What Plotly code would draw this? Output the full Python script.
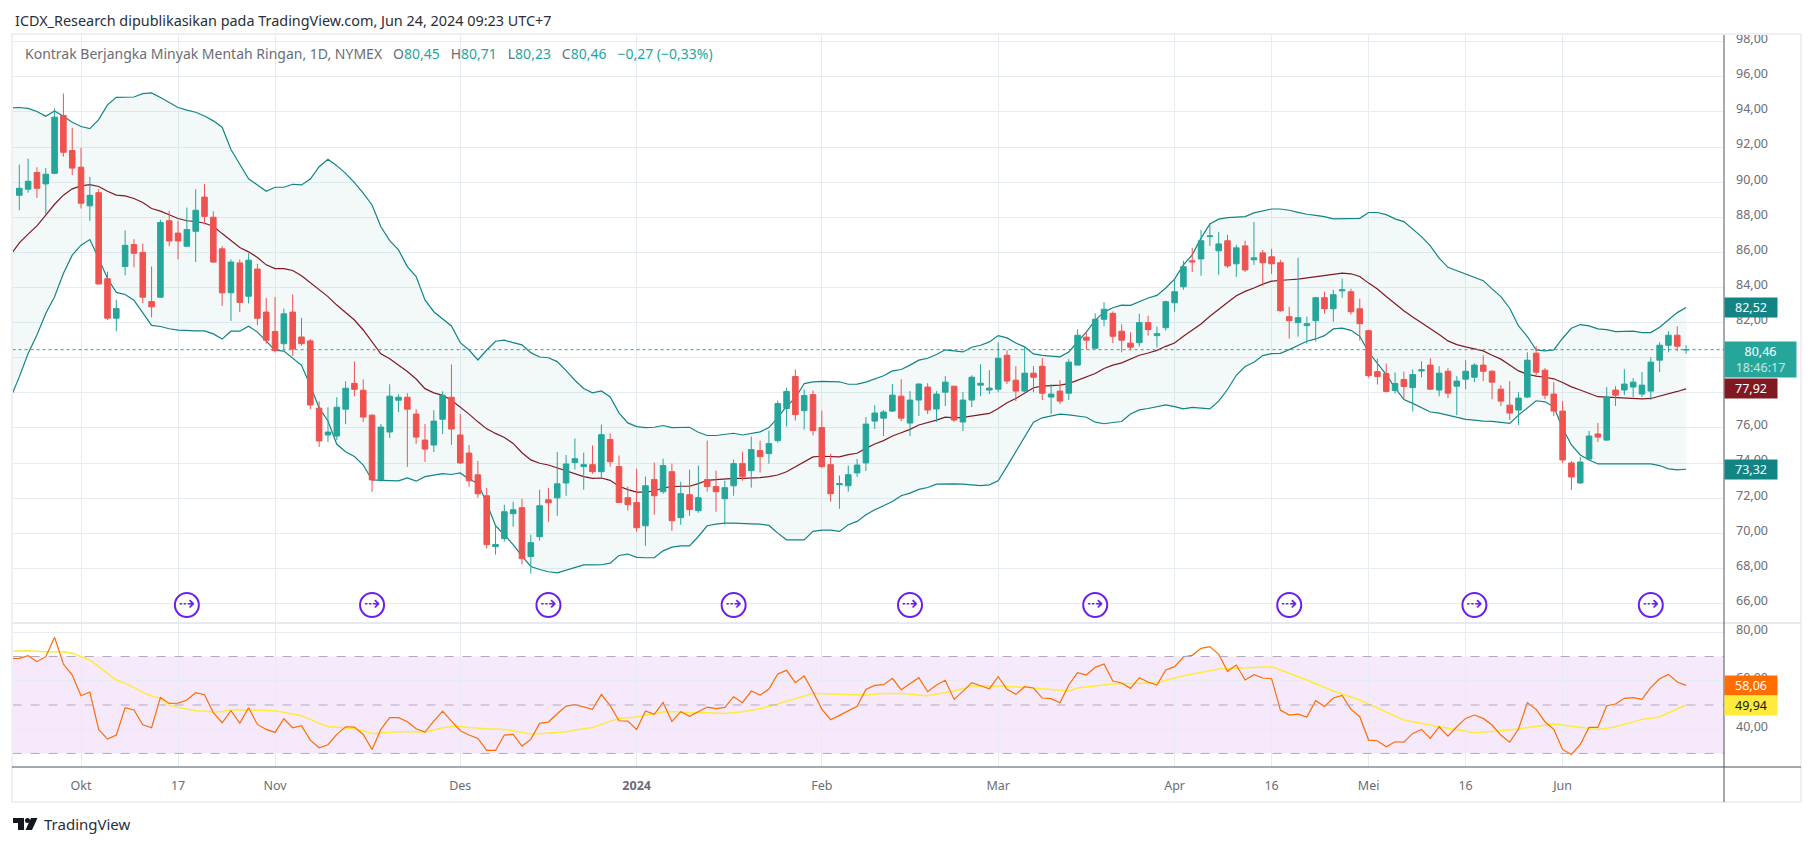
import plotly.graph_objects as go

W, H = 1814, 846

# daily candles, Sep 21 2023 .. Jun 24 2024
opens = [
    89.25, 89.6, 90.55, 89.9, 90.5, 93.8, 91.8, 90.85, 88.65, 89.4,
    84.5, 82.25, 85.2, 86.45, 86.0, 83.2, 83.45, 87.8, 87.1, 86.35,
    87.2, 89.15, 88.0, 86.2, 83.7, 85.4, 83.5, 85.05, 82.6, 81.5,
    80.8, 82.6, 81.18, 80.96, 77.13, 75.6, 75.54, 77.07, 78.54, 78.15,
    76.73, 73.04, 75.77, 77.58, 77.75, 76.79, 75.31, 75.03, 76.5, 77.75,
    75.6, 74.57, 73.33, 72.14, 69.24, 69.7, 71.12, 71.46, 68.68, 69.81,
    71.91, 72.02, 72.87, 74.03, 73.8, 73.91, 73.51, 75.34, 73.8, 72.03,
    71.75, 70.43, 73.06, 72.37, 73.51, 70.89, 72.2, 71.29, 73.06, 72.66,
    71.97, 72.71, 73.97, 73.57, 74.71, 74.54, 75.28, 77.11, 78.93, 76.99,
    77.9, 76.02, 73.91, 72.77, 72.71, 73.44, 74.01, 76.39, 76.56, 76.96,
    77.81, 76.28, 77.59, 78.33, 77.08, 78.04, 78.38, 76.34, 77.59, 78.44,
    78.16, 78.21, 80.14, 78.72, 78.1, 79.12, 79.52, 77.76, 78.1, 77.98,
    79.58, 81.17, 80.54, 82.19, 82.53, 81.51, 80.83, 80.86, 82.0, 81.26,
    81.71, 83.13, 84.04, 85.52, 85.63, 86.9, 86.09, 86.66, 85.35, 86.37,
    85.58, 85.97, 85.75, 85.41, 82.34, 82.0, 81.83, 82.11, 83.42, 82.79,
    83.81, 83.76, 82.79, 81.54, 79.21, 79.1, 78.13, 78.76, 78.3, 79.25,
    79.58, 78.16, 79.23, 78.38, 78.78, 78.89, 79.58, 79.23, 78.21, 77.3,
    77.02, 77.76, 80.26, 79.29, 77.93, 76.96, 74.01, 72.87, 74.23, 75.66,
    75.31, 78.16, 78.16, 78.33, 77.93, 78.1, 79.86, 80.71, 81.28, 80.45,
]
highs = [
    91.0, 91.34, 90.85, 90.8, 94.2, 95.05, 93.1, 91.95, 90.3, 89.6,
    84.9, 83.3, 87.25, 86.75, 86.5, 85.2, 87.85, 88.35, 87.8, 88.55,
    89.6, 89.9, 88.35, 86.35, 85.6, 85.6, 85.95, 85.35, 83.4, 83.45,
    82.8, 83.6, 82.27, 81.07, 77.52, 77.18, 77.75, 78.66, 79.79, 78.77,
    76.79, 76.22, 78.49, 77.92, 77.98, 77.07, 76.22, 77.01, 78.09, 79.62,
    76.79, 75.03, 74.12, 72.59, 70.43, 71.63, 71.8, 71.97, 69.92, 72.48,
    72.59, 74.63, 74.46, 75.4, 74.6, 75.0, 76.19, 75.68, 74.43, 72.66,
    73.68, 73.23, 74.03, 74.25, 73.97, 72.94, 73.63, 73.86, 75.28, 73.57,
    73.0, 74.2, 74.65, 75.51, 75.28, 75.85, 77.56, 78.3, 79.33, 78.19,
    78.13, 76.99, 74.54, 73.29, 73.86, 74.23, 76.62, 77.3, 77.02, 78.5,
    78.78, 78.1, 78.55, 78.55, 78.1, 78.95, 78.38, 78.04, 79.0, 79.63,
    79.29, 80.88, 80.43, 79.52, 80.66, 79.52, 79.97, 78.5, 78.72, 79.92,
    81.62, 81.45, 82.53, 83.16, 82.64, 81.9, 81.45, 82.51, 82.39, 81.77,
    83.25, 84.44, 85.52, 86.26, 87.28, 87.68, 87.17, 87.0, 86.43, 86.66,
    87.73, 86.14, 86.2, 85.58, 82.9, 85.69, 82.34, 83.47, 83.76, 83.87,
    84.5, 83.93, 83.36, 81.6, 79.95, 79.67, 79.16, 79.21, 79.33, 79.8,
    79.97, 79.52, 79.41, 78.95, 79.86, 79.69, 80.14, 79.29, 78.44, 78.67,
    78.04, 80.31, 80.66, 79.41, 78.61, 77.53, 74.12, 74.35, 75.83, 76.28,
    78.33, 78.38, 79.35, 78.84, 79.18, 80.03, 80.88, 81.51, 81.79, 80.71,
]
lows = [
    88.4, 89.4, 89.1, 88.2, 90.45, 91.45, 90.4, 88.5, 87.8, 84.2,
    82.15, 81.5, 84.7, 85.15, 83.1, 82.3, 83.4, 86.35, 85.6, 86.3,
    85.45, 87.6, 85.4, 82.95, 82.1, 82.6, 83.1, 81.85, 80.8, 80.3,
    80.45, 80.1, 80.69, 77.08, 74.92, 75.2, 75.31, 76.22, 77.81, 76.33,
    72.36, 72.93, 75.43, 76.9, 73.78, 75.09, 74.06, 74.63, 75.65, 75.03,
    73.95, 72.65, 72.02, 69.13, 68.79, 69.53, 70.38, 68.22, 67.71, 69.58,
    70.66, 71.0, 72.14, 73.63, 72.49, 73.4, 73.17, 73.8, 71.75, 71.29,
    70.09, 69.29, 71.06, 72.26, 70.15, 70.49, 71.0, 71.17, 72.37, 71.23,
    70.49, 72.14, 73.0, 72.6, 73.46, 73.97, 75.17, 76.08, 76.42, 75.91,
    75.57, 73.74, 71.8, 71.4, 72.37, 73.21, 73.55, 75.94, 75.54, 76.91,
    76.39, 75.54, 76.68, 76.79, 76.34, 77.25, 76.34, 75.83, 77.19, 77.81,
    77.93, 78.04, 78.5, 77.53, 78.04, 78.04, 77.59, 76.79, 77.36, 77.59,
    79.58, 80.48, 80.54, 81.79, 80.83, 80.31, 80.43, 80.63, 81.26, 80.58,
    81.54, 82.62, 83.87, 84.89, 84.67, 86.37, 84.72, 85.12, 84.61, 84.89,
    85.29, 84.1, 84.78, 82.62, 81.09, 81.2, 80.8, 80.92, 82.51, 82.05,
    83.42, 82.45, 80.97, 78.87, 78.47, 78.02, 77.96, 77.62, 76.94, 78.89,
    78.16, 77.81, 77.7, 76.73, 78.21, 78.61, 78.67, 77.64, 77.25, 76.45,
    76.17, 77.7, 79.01, 77.64, 76.68, 74.01, 72.47, 72.81, 74.18, 75.2,
    75.26, 77.25, 77.87, 77.76, 77.76, 77.59, 79.18, 80.31, 80.37, 80.23,
]
closes = [
    89.65, 90.05, 89.65, 90.45, 93.7, 91.7, 90.8, 88.8, 89.25, 84.2,
    82.25, 82.8, 86.4, 85.95, 83.45, 82.9, 87.7, 86.65, 86.65, 87.3,
    88.4, 88.05, 85.45, 83.7, 85.45, 83.15, 85.55, 82.25, 81.0, 80.4,
    82.5, 80.5, 80.8, 77.31, 75.26, 75.77, 77.18, 78.26, 78.2, 76.62,
    73.04, 76.05, 77.81, 77.75, 77.07, 75.48, 74.8, 76.39, 77.86, 75.94,
    74.01, 72.99, 72.25, 69.36, 69.36, 71.23, 71.34, 68.56, 69.47, 71.57,
    71.74, 72.82, 73.95, 74.25, 73.91, 73.51, 75.62, 74.08, 71.75, 71.63,
    70.32, 72.71, 72.14, 73.86, 70.72, 72.26, 71.35, 72.03, 72.66, 72.37,
    72.6, 73.97, 73.23, 74.77, 74.37, 75.11, 77.39, 78.08, 76.76, 77.85,
    75.85, 73.8, 72.26, 72.83, 73.34, 73.89, 76.22, 76.85, 76.91, 77.87,
    76.56, 77.59, 78.5, 77.02, 77.93, 78.61, 76.45, 77.59, 78.89, 78.55,
    78.27, 79.97, 78.67, 78.1, 79.12, 78.89, 77.98, 77.93, 77.53, 79.75,
    81.28, 81.0, 82.19, 82.76, 81.22, 81.0, 80.6, 82.0, 81.6, 81.37,
    83.19, 83.76, 85.18, 85.46, 86.66, 86.94, 86.48, 85.23, 86.26, 85.0,
    85.69, 85.41, 85.35, 82.68, 82.11, 82.28, 81.94, 83.42, 82.79, 83.59,
    83.87, 82.62, 81.94, 78.98, 78.93, 78.08, 78.53, 78.36, 79.04, 79.31,
    78.21, 79.12, 77.98, 78.67, 79.23, 79.58, 79.23, 78.61, 77.53, 76.85,
    77.7, 79.86, 79.18, 77.87, 76.96, 74.18, 73.21, 74.06, 75.54, 75.48,
    77.76, 77.87, 78.5, 78.61, 78.44, 79.75, 80.71, 81.28, 80.66, 80.46,
]

# bollinger bands, first value sits one day before the first candle
bb_upper = [
    94.22,
    94.25, 94.2, 94.02, 93.75, 94.05, 93.75, 93.41, 93.17, 93.05, 93.56,
    94.4, 94.83, 94.83, 94.85, 95.04, 95.08, 94.82, 94.53, 94.25, 94.1,
    93.98, 93.77, 93.49, 93.13, 91.86, 91.02, 90.19, 89.84, 89.48, 89.71,
    89.71, 89.88, 89.84, 90.18, 90.88, 91.3, 90.94, 90.5, 89.97, 89.37,
    88.7, 87.46, 86.67, 86.14, 85.19, 84.62, 83.29, 82.62, 82.19, 81.81,
    80.86, 80.44, 79.87, 80.44, 80.94, 81.0, 80.86, 80.73, 80.29, 80.04,
    80.0, 79.78, 79.27, 78.72, 78.25, 78.0, 78.11, 77.77, 76.86, 76.29,
    76.08, 76.02, 76.04, 76.14, 76.02, 76.04, 76.04, 75.76, 75.57, 75.57,
    75.64, 75.7, 75.6, 75.7, 75.78, 76.02, 76.57, 77.24, 77.71, 78.53,
    78.63, 78.65, 78.65, 78.63, 78.49, 78.5, 78.61, 78.78, 78.97, 79.25,
    79.33, 79.58, 79.86, 79.97, 80.18, 80.45, 80.39, 80.33, 80.6, 80.71,
    80.9, 81.26, 81.13, 80.84, 80.62, 80.22, 80.14, 80.11, 80.05, 80.33,
    80.9, 81.47, 82.13, 82.61, 82.85, 83.0, 82.98, 83.21, 83.4, 83.55,
    83.97, 84.48, 85.29, 85.86, 86.81, 87.62, 87.89, 87.98, 88.0, 88.04,
    88.25, 88.36, 88.47, 88.47, 88.4, 88.28, 88.17, 88.11, 88.04, 87.91,
    87.91, 87.92, 87.94, 88.27, 88.27, 88.15, 87.91, 87.75, 87.3, 86.9,
    86.37, 85.67, 85.15, 84.96, 84.77, 84.58, 84.39, 83.92, 83.48, 82.82,
    81.81, 81.21, 80.45, 80.39, 80.45, 81.11, 81.68, 81.89, 81.81, 81.64,
    81.6, 81.49, 81.51, 81.51, 81.43, 81.43, 81.74, 82.15, 82.57, 82.86,
]
bb_mid = [
    85.85,
    86.54, 87.04, 87.51, 88.12, 88.74, 89.26, 89.62, 89.79, 89.86, 89.75,
    89.48, 89.26, 89.22, 89.07, 88.84, 88.5, 88.35, 88.14, 87.93, 87.8,
    87.76, 87.66, 87.49, 87.07, 86.69, 86.28, 86.03, 85.71, 85.29, 85.08,
    85.08, 84.97, 84.67, 84.28, 83.86, 83.48, 83.0, 82.57, 82.15, 81.58,
    80.9, 80.22, 79.94, 79.6, 79.22, 78.79, 78.24, 78.0, 77.86, 77.58,
    77.2, 76.79, 76.35, 75.95, 75.69, 75.46, 75.12, 74.59, 74.18, 73.99,
    73.89, 73.72, 73.55, 73.36, 73.23, 73.13, 73.15, 73.02, 72.68, 72.49,
    72.35, 72.35, 72.41, 72.58, 72.66, 72.68, 72.68, 72.83, 73.02, 73.06,
    73.1, 73.13, 73.13, 73.13, 73.17, 73.23, 73.32, 73.51, 73.78, 74.06,
    74.35, 74.39, 74.39, 74.35, 74.48, 74.56, 74.84, 75.09, 75.28, 75.54,
    75.73, 75.92, 76.17, 76.3, 76.45, 76.62, 76.58, 76.6, 76.68, 76.72,
    76.83, 77.11, 77.44, 77.68, 78.0, 78.29, 78.38, 78.42, 78.44, 78.53,
    78.72, 78.91, 79.1, 79.39, 79.58, 79.71, 79.92, 80.14, 80.27, 80.42,
    80.65, 80.84, 81.22, 81.56, 81.92, 82.36, 82.77, 83.15, 83.53, 83.78,
    83.97, 84.19, 84.36, 84.38, 84.44, 84.48, 84.55, 84.61, 84.67, 84.76,
    84.82, 84.78, 84.63, 84.25, 83.91, 83.49, 83.06, 82.68, 82.32, 82.0,
    81.66, 81.32, 80.96, 80.75, 80.62, 80.5, 80.39, 80.14, 79.92, 79.58,
    79.25, 79.06, 78.95, 78.89, 78.8, 78.59, 78.34, 78.16, 77.97, 77.78,
    77.76, 77.74, 77.68, 77.68, 77.66, 77.68, 77.8, 77.95, 78.08, 78.23,
]
bb_lower = [
    77.7,
    78.91, 80.24, 81.29, 82.52, 83.47, 84.8, 85.84, 86.41, 86.73, 85.65,
    84.51, 83.72, 83.6, 83.28, 82.56, 81.84, 81.78, 81.65, 81.57, 81.53,
    81.53, 81.53, 81.36, 81.06, 81.51, 81.51, 81.8, 81.46, 80.96, 80.43,
    80.38, 80.0, 79.57, 78.4, 77.14, 76.4, 75.07, 74.65, 74.37, 73.89,
    73.04, 73.02, 73.02, 72.99, 73.16, 72.97, 73.23, 73.33, 73.4, 73.35,
    73.44, 73.08, 72.85, 71.72, 70.43, 69.92, 69.36, 68.7, 68.11, 67.94,
    67.81, 67.75, 67.9, 68.09, 68.2, 68.2, 68.21, 68.3, 68.74, 68.82,
    68.63, 68.61, 68.61, 69.0, 69.21, 69.29, 69.29, 69.82, 70.43, 70.52,
    70.58, 70.58, 70.58, 70.54, 70.52, 70.45, 70.01, 69.63, 69.63, 69.63,
    70.11, 70.18, 70.18, 70.11, 70.49, 70.68, 71.06, 71.34, 71.57, 71.81,
    72.14, 72.29, 72.5, 72.61, 72.8, 72.82, 72.82, 72.8, 72.74, 72.72,
    72.76, 72.99, 73.81, 74.66, 75.51, 76.33, 76.58, 76.69, 76.79, 76.75,
    76.69, 76.61, 76.33, 76.24, 76.31, 76.37, 76.8, 77.03, 77.11, 77.22,
    77.32, 77.22, 77.09, 77.17, 77.12, 77.09, 77.53, 78.19, 79.0, 79.5,
    79.74, 80.12, 80.23, 80.25, 80.46, 80.69, 80.94, 81.07, 81.26, 81.64,
    81.69, 81.56, 81.22, 80.31, 79.7, 79.04, 78.28, 77.62, 77.4, 77.15,
    76.91, 76.85, 76.73, 76.58, 76.49, 76.45, 76.39, 76.38, 76.3, 76.26,
    76.73, 77.15, 77.55, 77.49, 77.21, 75.98, 75.03, 74.46, 74.18, 73.95,
    73.95, 73.95, 73.97, 73.97, 73.99, 73.95, 73.86, 73.67, 73.61, 73.65,
]

rsi = [
    69.12,
    69.26, 70.36, 67.88, 69.94, 77.93, 66.91, 62.37, 53.83, 55.34, 39.92,
    35.92, 37.58, 48.87, 47.91, 41.85, 40.61, 53.14, 50.66, 50.8, 52.04,
    55.07, 54.24, 46.8, 42.67, 47.63, 42.53, 48.87, 41.98, 39.92, 38.68,
    44.33, 40.61, 41.43, 35.51, 32.34, 33.58, 37.85, 41.02, 40.88, 37.85,
    31.65, 39.92, 44.74, 44.74, 43.09, 40.19, 38.82, 43.36, 47.49, 43.36,
    39.37, 37.58, 36.2, 31.24, 31.24, 37.58, 37.85, 33.03, 35.79, 42.4,
    42.95, 46.39, 49.56, 50.11, 49.28, 48.18, 54.38, 49.7, 43.5, 43.36,
    39.92, 47.49, 46.12, 51.07, 43.22, 47.22, 45.29, 47.22, 49.15, 48.46,
    49.01, 53.42, 50.94, 55.76, 54.1, 56.58, 62.78, 64.3, 59.2, 61.96,
    55.48, 48.32, 43.91, 45.7, 47.49, 49.42, 56.45, 58.1, 58.37, 60.99,
    56.3, 58.65, 61.27, 55.48, 58.24, 60.17, 52.31, 55.62, 59.2, 57.96,
    56.72, 61.68, 56.45, 54.38, 57.55, 57.0, 52.87, 52.59, 50.94, 58.24,
    63.33, 62.37, 65.54, 66.91, 59.89, 59.06, 56.86, 61.27, 59.48, 58.24,
    64.44, 65.81, 69.81, 70.5, 73.39, 74.08, 70.91, 63.88, 66.5, 60.3,
    62.51, 61.13, 60.85, 47.91, 45.84, 46.25, 45.01, 51.76, 49.42, 52.87,
    53.97, 48.18, 45.15, 35.51, 35.23, 32.75, 34.82, 34.68, 38.26, 39.92,
    36.2, 41.02, 37.16, 41.02, 44.46, 45.84, 44.46, 41.71, 37.58, 34.68,
    40.06, 50.94, 48.18, 43.09, 39.92, 31.65, 29.59, 33.72, 40.74, 40.74,
    49.7, 50.39, 52.73, 53.0, 52.31, 57.27, 60.85, 62.64, 59.48, 58.1,
]

# rsi moving average, read at these day numbers
rsi_ma_days = [
    -1, 0, 1, 3, 4, 5, 6, 7, 8, 9, 10, 11, 12, 13, 14, 15, 16, 17, 18, 19, 20,
    21, 22, 23, 24, 25, 26, 27, 28, 29, 30, 31, 32, 33, 34, 35, 36, 37, 38, 39,
    40, 41, 42, 43, 44, 45, 46, 47, 48, 49, 50, 51, 52, 53, 54, 55, 56, 57, 58,
    59, 60, 61, 62, 63, 64, 65, 66, 67, 68, 69, 70, 71, 72, 73, 74, 75, 76, 78,
    80, 82, 84, 86, 88, 90, 92, 94, 96, 98, 100, 103, 106, 108, 111, 114, 119,
    120, 124, 129, 132, 136, 140, 142, 146, 149, 152, 157, 161, 165, 169, 174,
    179, 181, 184, 186, 189,
]
rsi_ma = [
    72.15, 72.29, 72.42, 72.01, 72.15, 72.01, 71.32, 69.94, 68.57, 65.81, 63.06,
    60.3, 58.93, 57.27, 55.21, 53.69, 52.73, 49.97, 49.01, 48.18, 47.63, 47.49,
    47.08, 47.36, 47.91, 48.04, 48.04, 47.77, 47.77, 47.63, 46.94, 46.12, 45.56,
    44.05, 42.4, 41.16, 40.74, 40.33, 40.19, 39.37, 38.26, 38.4, 38.82, 38.95,
    38.95, 38.95, 38.82, 39.64, 40.61, 41.16, 41.16, 40.74, 40.33, 40.19, 40.06,
    39.92, 39.37, 38.68, 37.99, 38.13, 38.4, 38.68, 38.95, 39.64, 40.19, 40.74,
    41.98, 43.09, 44.46, 44.74, 45.01, 45.84, 46.53, 47.08, 47.36, 47.08, 46.8,
    46.8, 46.53, 47.22, 48.46, 50.39, 52.73, 54.79, 54.52, 54.24, 54.1, 54.79,
    54.79, 53.83, 55.76, 57.82, 57.82, 57.27, 55.76, 57.0, 58.65, 59.2, 62.09,
    64.85, 65.67, 65.81, 60.3, 55.76, 52.04, 43.77, 41.02, 38.54, 39.64, 42.12,
    39.92, 41.02, 44.05, 45.15, 49.97,
]

tick_days = [7, 18, 29, 50, 70, 91, 111, 131, 142, 153, 164, 175]
tick_names = ["Okt", "17", "Nov", "Des", "<b>2024</b>", "Feb", "Mar", "Apr", "16", "Mei", "16", "Jun"]
price_ticks = list(range(66, 100, 2))
covered_ticks = [78, 80]  # sit fully behind the value labels
rsi_ticks = [80, 60, 40]
rsi_bands = [70, 50, 30]
roll_days = [19, 40, 60, 81, 101, 122, 144, 165, 185]
roll_price = [65.92] * len(roll_days)
last_price = 80.46

days = list(range(len(closes)))
band_days = list(range(-1, len(closes)))

TEAL = "#26a69a"
RED = "#ef5350"
BAND = "#138484"
GRID = "#e6edf2"
TEXT = "#6a6d78"
AXIS = "#50535e"


def px(x):
    return x / W


def py(y):
    return 1 - y / H


def comma(v):
    return f"{v:.2f}".replace(".", ",")


fig = go.Figure()

fig.add_trace(go.Scatter(x=band_days, y=bb_upper, mode="lines", line=dict(color=BAND, width=1.2)))
fig.add_trace(go.Scatter(x=band_days, y=bb_lower, mode="lines", line=dict(color=BAND, width=1.2),
                         fill="tonexty", fillcolor="rgba(38,150,150,0.055)"))
fig.add_trace(go.Scatter(x=band_days, y=bb_mid, mode="lines", line=dict(color="#801922", width=1.2)))

# candles on an overlaying axis so that they stay above the band lines
fig.add_trace(go.Candlestick(
    x=days, open=opens, high=highs, low=lows, close=closes, yaxis="y3", whiskerwidth=0,
    increasing=dict(line=dict(color=TEAL, width=1), fillcolor=TEAL),
    decreasing=dict(line=dict(color=RED, width=1), fillcolor=RED),
))

fig.add_trace(go.Scatter(
    x=roll_days, y=roll_price, mode="markers+text", text=["⇢"] * len(roll_days),
    textposition="middle center", textfont=dict(family="DejaVu Sans", size=20, color="#6a1ff0"),
    marker=dict(size=24, color="white", line=dict(color="#6a1ff0", width=2)),
))

fig.add_trace(go.Scatter(x=rsi_ma_days, y=rsi_ma, mode="lines", yaxis="y2",
                         line=dict(color="#ffeb3b", width=1.5)))
fig.add_trace(go.Scatter(x=band_days, y=rsi, mode="lines", yaxis="y2",
                         line=dict(color="#ff6d00", width=1.2)))

x_range = [-0.76, 193.3]
price_range = [64.95, 98.38]
rsi_range = [24.4, 83.84]

shapes = [
    dict(type="rect", xref="x", yref="y2", x0=x_range[0], x1=x_range[1], y0=30, y1=70,
         fillcolor="rgba(170,40,230,0.1)", line_width=0, layer="below"),
    dict(type="line", xref="x", yref="y", x0=x_range[0], x1=x_range[1], y0=last_price, y1=last_price,
         line=dict(color=TEAL, width=1, dash="dot")),
]
for level in rsi_bands:
    shapes.append(dict(type="line", xref="x", yref="y2", x0=x_range[0], x1=x_range[1], y0=level, y1=level,
                       line=dict(color="#b2a8bd", width=1, dash="dash")))

# frame, pane separator and axis lines
shapes += [
    dict(type="rect", xref="paper", yref="paper", x0=px(12), x1=px(1801), y0=py(802), y1=py(34),
         line=dict(color="#eef0f6", width=2)),
    dict(type="line", xref="paper", yref="paper", x0=px(12), x1=px(1801), y0=py(623), y1=py(623),
         line=dict(color="#e0e3eb", width=1.5)),
    dict(type="line", xref="paper", yref="paper", x0=px(12), x1=px(1801), y0=py(767), y1=py(767),
         line=dict(color=AXIS, width=1)),
    dict(type="line", xref="paper", yref="paper", x0=px(1724), x1=px(1724), y0=py(802), y1=py(35),
         line=dict(color=AXIS, width=1)),
]

# tradingview logo
def poly(points):
    path = "M" + " L".join(f"{px(a)},{py(b)}" for a, b in points) + " Z"
    return dict(type="path", xref="paper", yref="paper", path=path, fillcolor="#131722", line_width=0)


shapes += [
    poly([(13, 818), (24, 818), (24, 830), (18, 830), (18, 823), (13, 823)]),
    poly([(31, 818), (37.5, 818), (32, 830), (25.5, 830)]),
    dict(type="circle", xref="paper", yref="paper", x0=px(25), x1=px(30), y0=py(823), y1=py(818),
         fillcolor="#131722", line_width=0),
]


def side_label(y, text, bg, color="white", yref="y", width=52, height=19, shift=0, yanchor="middle"):
    return dict(xref="paper", x=px(1724), xanchor="left", yref=yref, y=y, yanchor=yanchor, yshift=shift,
                text=text, showarrow=False, bgcolor=bg, width=width, height=height, align="center",
                font=dict(family="Noto Sans", size=12.5, color=color), borderpad=0)


val = f'<span style="color:{TEAL}">'
gap = " &nbsp;&nbsp;"
legend = (
    f"Kontrak Berjangka Minyak Mentah Ringan, 1D, NYMEX{gap}"
    f"O{val}80,45</span>{gap}H{val}80,71</span>{gap}L{val}80,23</span>{gap}C{val}80,46</span>{gap}"
    f"{val}−0,27 (−0,33%)</span>"
)

annotations = [
    dict(xref="paper", yref="paper", x=px(13), y=py(20), xanchor="left", yanchor="middle", showarrow=False,
         text="ICDX_Research dipublikasikan pada TradingView.com, Jun 24, 2024 09:23 UTC+7",
         font=dict(family="Noto Sans", size=14.4, color="#2a2e39")),
    dict(xref="paper", yref="paper", x=px(23), y=py(53), xanchor="left", yanchor="middle", showarrow=False,
         text=legend, font=dict(family="Noto Sans", size=14, color=TEXT)),
    dict(xref="paper", yref="paper", x=px(42), y=py(824), xanchor="left", yanchor="middle", showarrow=False,
         text="TradingView", font=dict(family="Noto Sans", size=15, color="#2a2e39")),
    side_label(bb_upper[-1], "82,52", BAND),
    side_label(bb_mid[-1], "77,92", "#801922"),
    side_label(bb_lower[-1], "73,32", BAND),
    side_label(last_price, '80,46<br><span style="color:#c4e8e4">18:46:17</span>', TEAL,
               width=71, height=35, shift=9, yanchor="top"),
    side_label(rsi[-1], "58,06", "#ff6d00", yref="y2"),
    side_label(rsi_ma[-1], "49,94", "#ffeb3b", color="#131722", yref="y2"),
]

fig.update_layout(
    width=W, height=H, margin=dict(l=0, r=0, t=0, b=0, autoexpand=False), paper_bgcolor="white", plot_bgcolor="white",
    showlegend=False, hovermode=False, boxgap=0.1, shapes=shapes, annotations=annotations,
    xaxis=dict(domain=[px(12.6), px(1724)], range=x_range, anchor="y2", tickvals=tick_days, ticktext=tick_names,
               showgrid=True, gridcolor=GRID, gridwidth=1, zeroline=False, showline=False, ticks="",
               ticklabelstandoff=9, rangeslider=dict(visible=False),
               tickfont=dict(family="Noto Sans", size=12.5, color=TEXT)),
    yaxis=dict(domain=[py(622), py(35)], range=price_range, side="right", anchor="x", tickvals=price_ticks,
               ticktext=["" if v in covered_ticks else comma(v) for v in price_ticks],
               showgrid=True, gridcolor=GRID, gridwidth=1, automargin=False,
               zeroline=False, ticks="", ticklabelstandoff=11, ticklabelshift=-3,
               tickfont=dict(family="Noto Sans", size=12.5, color=TEXT)),
    yaxis2=dict(domain=[py(767), py(623)], range=rsi_range, side="right", anchor="x", tickvals=rsi_ticks,
                ticktext=[comma(v) for v in rsi_ticks], showgrid=True, gridcolor=GRID, gridwidth=1, automargin=False,
                zeroline=False, ticks="", ticklabelstandoff=11, ticklabelshift=-3,
                tickfont=dict(family="Noto Sans", size=12.5, color=TEXT)),
    yaxis3=dict(overlaying="y", range=price_range, side="right", anchor="x", visible=False),
)

fig.write_html("out.html", config=dict(displayModeBar=False),
               post_script="document.body.style.margin='0';document.body.style.overflow='hidden';")
